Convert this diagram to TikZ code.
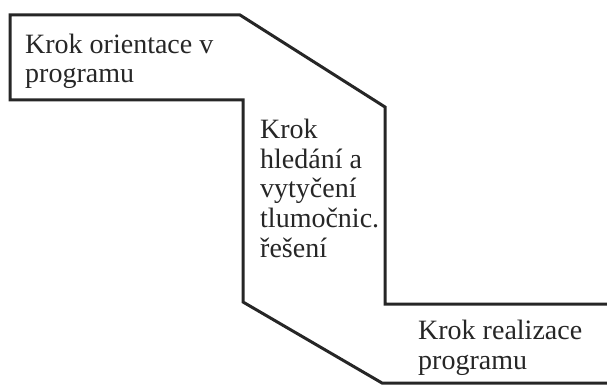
\documentclass[tikz,border=0pt]{standalone}
\usepackage{fontspec}
\setmainfont{Liberation Serif}
\usetikzlibrary{positioning}
\begin{document}
\begin{tikzpicture}[x=1pt, y=-1pt,
outline/.style={draw=black!85, line width=3pt, line join=miter},
steptext/.style={anchor=base west, align=left, inner sep=0pt, text=black!85, font=\fontsize{28}{29.5}\selectfont}
]
\useasboundingbox (0,0) rectangle (607,387);

% stair outline, open on the right
\coordinate (r_top) at (607,304);
\coordinate (r_bot) at (607,383);
\draw[outline] (r_top) -- (385,304) -- (385,107) -- (240,15) -- (10,15) -- (10,100)
  -- (243,100) -- (243,302) -- (382,383) -- (r_bot);

% base = baseline of the last line
\node[steptext](orientace) at (25,83) {Krok orientace v\\programu};
\node[steptext](hledani) at (260,257) {Krok\\hledání a\\vytyčení\\tlumočnic.\\řešení};
\node[steptext](realizace) at (418,369) {Krok realizace\\programu};
\end{tikzpicture}
\end{document}
